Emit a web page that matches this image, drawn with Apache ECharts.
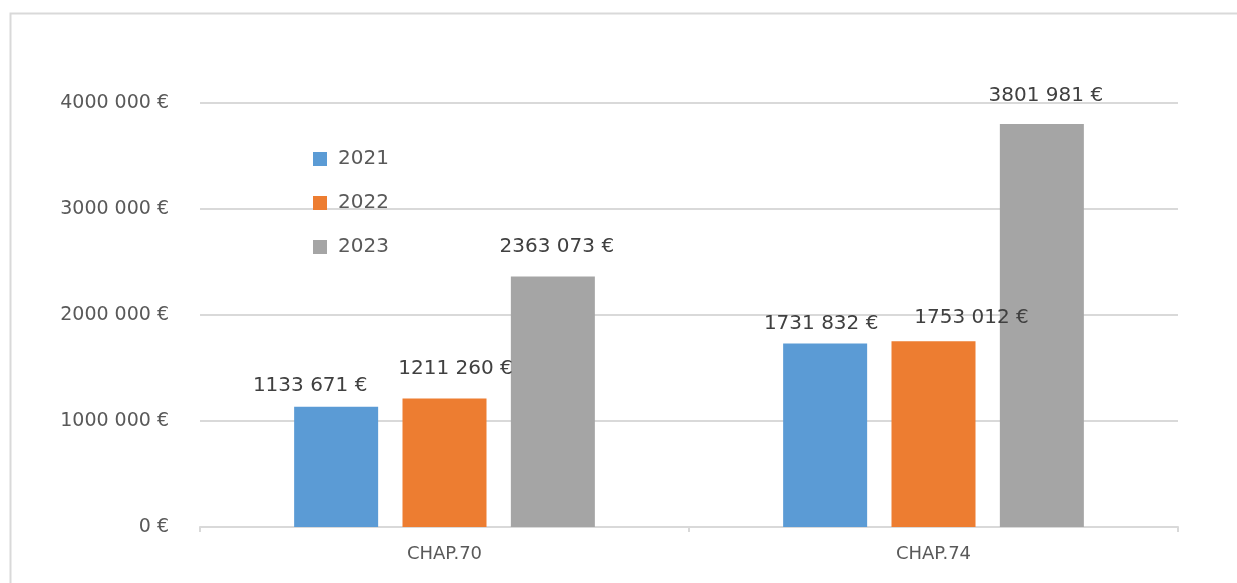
<!DOCTYPE html>
<html>
<head>
<meta charset="utf-8">
<script src="https://cdn.jsdelivr.net/npm/echarts@6/dist/echarts.min.js"></script>
<style>
  html, body { margin: 0; padding: 0; background: #fff; }
  #chart { width: 1237px; height: 583px; }
</style>
</head>
<body>
<div id="chart"></div>
<script>
var categories = ['CHAP.70', 'CHAP.74'];
var years = ['2021', '2022', '2023'];
var values2021 = [1133671, 1731832];
var values2022 = [1211260, 1753012];
var values2023 = [2363073, 3801981];
var colors = ['#5b9bd5', '#ed7d31', '#a5a5a5'];

// small nudges of the value labels, like in the original picture
var labelShift = [
    [[-26, -1], [-4, 0]],
    [[11, -10], [38, -3]],
    [[4, -10], [4, -8]]
];

function euro(v) {
    if (v < 1000) return v + ' €';
    var rest = ('00' + (v % 1000)).slice(-3);
    return Math.floor(v / 1000) + ' ' + rest + ' €';
}

var font = 'DejaVu Sans';

function makeSeries(name, values, i) {
    return {
        name: name,
        type: 'bar',
        barWidth: 84,
        barGap: '29%',
        itemStyle: { color: colors[i] },
        data: values.map(function (v, j) {
            return {
                value: v,
                label: { offset: labelShift[i][j] }
            };
        }),
        label: {
            show: true,
            position: 'top',
            distance: 10,
            color: '#404040',
            fontFamily: font,
            fontSize: 20,
            formatter: function (p) { return euro(p.value); }
        }
    };
}

var myChart = echarts.init(document.getElementById('chart'));
myChart.setOption({
    animation: false,
    backgroundColor: '#fff',
    graphic: [{
        type: 'rect',
        left: 8,
        top: 11,
        shape: { width: 1300, height: 700 },
        style: { fill: 'none', stroke: '#d9d9d9', lineWidth: 2 },
        silent: true
    }],
    legend: {
        orient: 'vertical',
        left: 308,
        top: 144,
        itemWidth: 14,
        itemHeight: 14,
        itemGap: 24,
        icon: 'rect',
        data: years,
        textStyle: { color: '#595959', fontFamily: font, fontSize: 20, padding: [0, 0, 0, 6] }
    },
    grid: { left: 200, right: 59, top: 103, bottom: 56 },
    xAxis: {
        type: 'category',
        data: categories,
        axisLine: { lineStyle: { color: '#d9d9d9', width: 2 } },
        axisTick: { show: true, length: 5, lineStyle: { color: '#d9d9d9', width: 2 } },
        axisLabel: { color: '#595959', fontFamily: font, fontSize: 18, margin: 18 }
    },
    yAxis: {
        type: 'value',
        min: 0,
        max: 4000000,
        interval: 1000000,
        axisLine: { show: false },
        axisTick: { show: false },
        splitLine: { lineStyle: { color: '#d9d9d9', width: 2 } },
        axisLabel: {
            color: '#595959',
            fontFamily: font,
            fontSize: 19,
            margin: 31,
            formatter: euro
        }
    },
    series: [
        makeSeries(years[0], values2021, 0),
        makeSeries(years[1], values2022, 1),
        makeSeries(years[2], values2023, 2)
    ]
});
</script>
</body>
</html>
